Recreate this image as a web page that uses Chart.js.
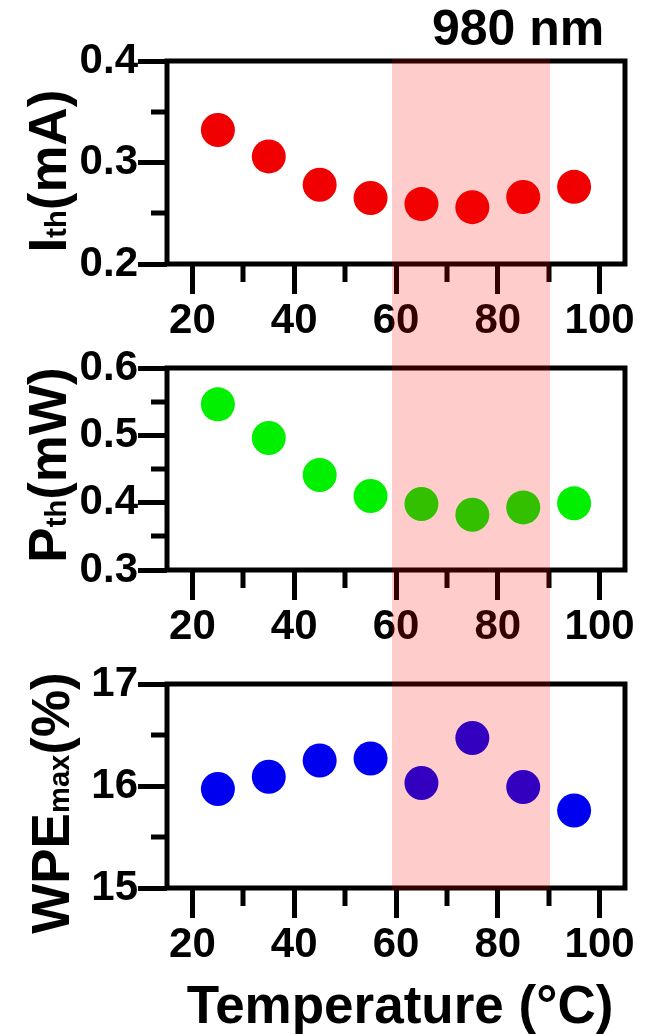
<!DOCTYPE html>
<html>
<head>
<meta charset="utf-8">
<script src="https://cdn.jsdelivr.net/npm/chart.js@4.4.1/dist/chart.umd.min.js"></script>
<style>
  html, body { margin: 0; padding: 0; background: #fff; }
  #wrap { position: relative; width: 646px; height: 1034px; overflow: hidden;
          font-family: "Liberation Sans", Arial, sans-serif; font-weight: bold; color: #000; }
  canvas { position: absolute; left: 0; }
  .ytitle { position: absolute; white-space: nowrap; font-size: 53px; line-height: 1;
            transform: translate(-50%, -50%) rotate(-90deg); }
  .sub { font-size: 0.55em; }
  #band { position: absolute; background: rgba(255, 0, 0, 0.2); pointer-events: none; }
</style>
</head>
<body>
<div id="wrap">
  <div style="position:absolute;left:432px;top:3px;font-size:50px;line-height:1;">980 nm</div>

  <canvas id="c1" width="646" height="340" style="top:0px"></canvas>
  <canvas id="c2" width="646" height="306" style="top:340px"></canvas>
  <canvas id="c3" width="646" height="318" style="top:646px"></canvas>

  <div class="ytitle" style="left:47px;top:171px;">I<span class="sub">th</span>(mA)</div>
  <div class="ytitle" style="left:47px;top:465px;">P<span class="sub">th</span>(mW)</div>
  <div class="ytitle" style="left:50px;top:803px;">WPE<span class="sub">max</span>(%)</div>

  <div style="position:absolute;left:0;width:800px;top:978px;font-size:53px;line-height:1;text-align:center;">Temperature (°C)</div>

  <div id="band"></div>
</div>

<script>
// temperatures (°C)
const temps = [25, 35, 45, 55, 65, 75, 85, 95];

// threshold current (mA)
const ithValues = [0.332, 0.306, 0.278, 0.265, 0.259, 0.256, 0.266, 0.276];
// threshold power (mW)
const pthValues = [0.546, 0.496, 0.441, 0.410, 0.398, 0.382, 0.393, 0.399];
// max wall-plug efficiency (%)
const wpeValues = [15.97, 16.09, 16.25, 16.27, 16.03, 16.47, 15.99, 15.76];

// tick labels
const xTicks = [20, 40, 60, 80, 100];
const xMinor = [30, 50, 70, 90];
const ithTicks = [0.2, 0.3, 0.4];
const ithMinor = [0.25, 0.35];
const pthTicks = [0.3, 0.4, 0.5, 0.6];
const pthMinor = [0.35, 0.45, 0.55];
const wpeTicks = [15, 16, 17];
const wpeMinor = [15.5, 16.5];

// highlighted temperature range
const bandRange = [59.2, 90.3];

Chart.defaults.font.family = '"Liberation Sans", Arial, sans-serif';
Chart.defaults.font.weight = 'bold';
Chart.defaults.font.size = 42;
Chart.defaults.color = '#000';

// draws the box round the plot and the short minor ticks
const framePlugin = {
  id: 'frame',
  afterDraw(chart, args, opts) {
    const { ctx, chartArea: a, scales } = chart;
    ctx.save();
    ctx.strokeStyle = '#000';
    ctx.lineWidth = 5;
    ctx.strokeRect(a.left, a.top, a.right - a.left, a.bottom - a.top);
    ctx.beginPath();
    opts.xMinor.forEach(v => {
      const px = Math.round(scales.x.getPixelForValue(v));
      ctx.moveTo(px, a.bottom);
      ctx.lineTo(px, a.bottom + 18);
    });
    opts.yMinor.forEach(v => {
      const py = Math.round(scales.y.getPixelForValue(v));
      ctx.moveTo(a.left, py);
      ctx.lineTo(a.left - 16, py);
    });
    ctx.stroke();
    ctx.restore();
  }
};

function makeChart(id, values, color, yMin, yMax, yTicks, yMinor, yDigits, padTop) {
  const ctx = document.getElementById(id).getContext('2d');
  return new Chart(ctx, {
    type: 'scatter',
    data: {
      datasets: [{
        data: temps.map((t, i) => ({ x: t, y: values[i] })),
        backgroundColor: color,
        borderWidth: 0,
        pointRadius: 17,
        pointHoverRadius: 17
      }]
    },
    options: {
      responsive: false,
      animation: false,
      events: [],
      layout: { padding: { left: 0, right: 21, top: padTop, bottom: 0 } },
      plugins: {
        legend: { display: false },
        tooltip: { enabled: false },
        frame: { xMinor: xMinor, yMinor: yMinor }
      },
      scales: {
        x: {
          type: 'linear',
          min: 15,
          max: 105,
          afterFit: s => { s.height = 76; },
          afterBuildTicks: s => { s.ticks = xTicks.map(v => ({ value: v })); },
          border: { display: false },
          grid: { drawOnChartArea: false, drawTicks: true, tickLength: 30, tickWidth: 5, tickColor: '#000' },
          ticks: { padding: 2, maxRotation: 0, autoSkip: false }
        },
        y: {
          min: yMin,
          max: yMax,
          afterFit: s => { s.width = 167; },
          afterBuildTicks: s => { s.ticks = yTicks.map(v => ({ value: v })); },
          border: { display: false },
          grid: { drawOnChartArea: false, drawTicks: true, tickLength: 29, tickWidth: 5, tickColor: '#000' },
          ticks: { padding: 0, autoSkip: false, callback: v => v.toFixed(yDigits) }
        }
      }
    },
    plugins: [framePlugin]
  });
}

const ch1 = makeChart('c1', ithValues, '#f00000', 0.2, 0.4, ithTicks, ithMinor, 1, 61);
const ch2 = makeChart('c2', pthValues, '#00f000', 0.3, 0.6, pthTicks, pthMinor, 1, 28);
const ch3 = makeChart('c3', wpeValues, '#0000f0', 15, 17, wpeTicks, wpeMinor, 0, 38);

// pink band over all three panels, placed from the x scale
const bx0 = ch1.scales.x.getPixelForValue(bandRange[0]);
const bx1 = ch1.scales.x.getPixelForValue(bandRange[1]);
const band = document.getElementById('band');
band.style.left = bx0 + 'px';
band.style.width = (bx1 - bx0) + 'px';
band.style.top = (ch1.chartArea.top - 2) + 'px';
band.style.height = (646 + ch3.chartArea.bottom + 2 - (ch1.chartArea.top - 2)) + 'px';
</script>
</body>
</html>
